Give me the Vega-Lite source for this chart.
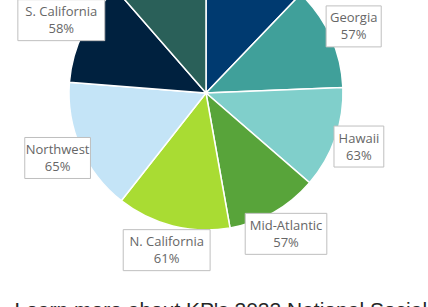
{
  "$schema": "https://vega.github.io/schema/vega-lite/v6.json",
  "width": 412,
  "height": 186,
  "autosize": {"type": "none"},
  "padding": {"left": 0, "top": 0, "right": 16, "bottom": 121},
  "background": "white",
  "config": {"view": {"stroke": null}},
  "title": {
    "text": "Learn more about KP's 2022 National Social",
    "orient": "bottom",
    "anchor": "start",
    "frame": "group",
    "offset": 29,
    "dx": 14.5,
    "baseline": "top",
    "font": "Liberation Sans",
    "fontSize": 21,
    "fontWeight": "normal",
    "color": "#262626"
  },
  "data": {
    "values": [
      {"region": "Colorado", "value": 43.75, "pct": null, "order": 1},
      {"region": "Georgia", "value": 43.95, "pct": 57, "order": 2},
      {"region": "Hawaii", "value": 43.2, "pct": 63, "order": 3},
      {"region": "Mid-Atlantic", "value": 39.0, "pct": 57, "order": 4},
      {"region": "N. California", "value": 48.3, "pct": 61, "order": 5},
      {"region": "Northwest", "value": 56.3, "pct": 65, "order": 6},
      {"region": "S. California", "value": 44.45, "pct": 58, "order": 7},
      {"region": "Washington", "value": 41.05, "pct": null, "order": 8}
    ]
  },
  "transform": [
    {"joinaggregate": [{"op": "sum", "field": "value", "as": "total"}]},
    {"window": [{"op": "sum", "field": "value", "as": "cum"}], "sort": [{"field": "order", "order": "ascending"}], "frame": [null, 0]},
    {"calculate": "(datum.cum - datum.value / 2) / datum.total * 2 * PI", "as": "mid"},
    {"calculate": "162 * sin(datum.mid)", "as": "lx"},
    {"calculate": "162 * cos(datum.mid)", "as": "ly"},
    {"calculate": "length(datum.region) * 2.65 + 9", "as": "hw"},
    {"calculate": "datum.lx - datum.hw", "as": "bx1"},
    {"calculate": "datum.lx + datum.hw", "as": "bx2"},
    {"calculate": "datum.ly - 20.5", "as": "by1"},
    {"calculate": "datum.ly + 20.5", "as": "by2"},
    {"calculate": "datum.region + '\\n' + datum.pct + '%'", "as": "label"}
  ],
  "layer": [
    {
      "mark": {"type": "arc", "radius": 137, "stroke": "white", "strokeWidth": 1.5},
      "encoding": {
        "theta": {"field": "value", "type": "quantitative", "stack": true},
        "order": {"field": "order", "type": "quantitative"},
        "color": {
          "field": "region",
          "type": "nominal",
          "scale": {
            "domain": ["Colorado", "Georgia", "Hawaii", "Mid-Atlantic", "N. California", "Northwest", "S. California", "Washington"],
            "range": ["#003A70", "#40A09A", "#80CFCB", "#58A43A", "#A9DC33", "#C4E4F7", "#00213F", "#2A6059"]
          },
          "legend": null
        }
      }
    },
    {
      "transform": [{"filter": "isValid(datum.pct)"}],
      "mark": {"type": "rect", "fill": "white", "stroke": "#BFBFBF", "strokeWidth": 1},
      "encoding": {
        "x": {"field": "bx1", "type": "quantitative", "scale": {"domain": [-206, 206], "nice": false, "zero": false}, "axis": null},
        "x2": {"field": "bx2"},
        "y": {"field": "by1", "type": "quantitative", "scale": {"domain": [-93, 93], "nice": false, "zero": false}, "axis": null},
        "y2": {"field": "by2"}
      }
    },
    {
      "transform": [{"filter": "isValid(datum.pct)"}],
      "mark": {"type": "text", "font": "Open Sans", "fontSize": 13, "color": "#666666", "lineBreak": "\n", "lineHeight": 17, "align": "center", "baseline": "middle", "dy": -8},
      "encoding": {
        "x": {"field": "lx", "type": "quantitative", "scale": {"domain": [-206, 206], "nice": false, "zero": false}, "axis": null},
        "y": {"field": "ly", "type": "quantitative", "scale": {"domain": [-93, 93], "nice": false, "zero": false}, "axis": null},
        "text": {"field": "label", "type": "nominal"}
      }
    }
  ]
}
